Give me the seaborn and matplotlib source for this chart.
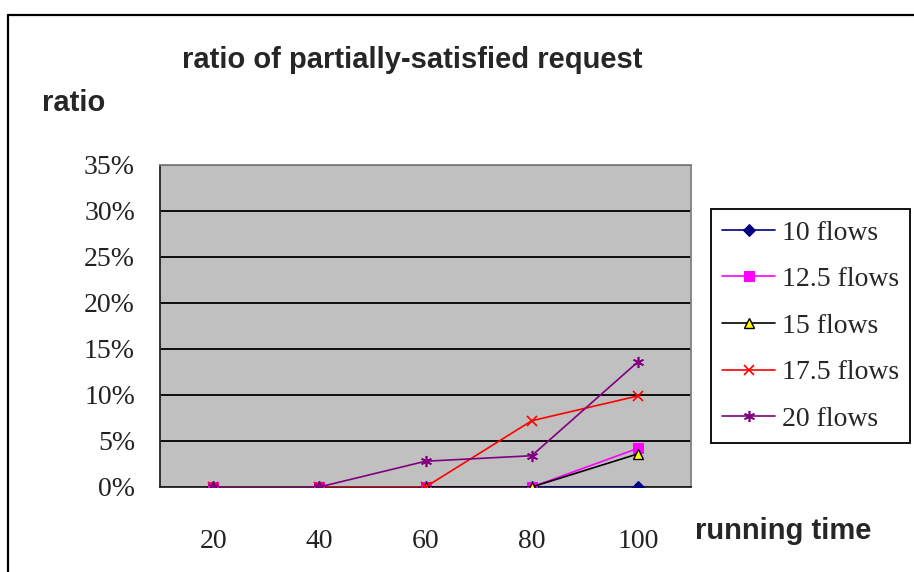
import matplotlib
matplotlib.use("Agg")
import matplotlib.pyplot as plt
from matplotlib.lines import Line2D
import seaborn as sns

# Running time categories and the ratio of partially-satisfied requests per flow load
running_time = ["20", "40", "60", "80", "100"]
flows_10 = [0.0, 0.0, 0.0, 0.0, 0.0]
flows_12_5 = [0.0, 0.0, 0.0, 0.0, 0.042]
flows_15 = [0.0, 0.0, 0.0, 0.0, 0.036]
flows_17_5 = [0.0, 0.0, 0.0, 0.072, 0.099]
flows_20 = [0.0, 0.0, 0.028, 0.034, 0.136]
series_names = ["10 flows", "12.5 flows", "15 flows", "17.5 flows", "20 flows"]
y_ticks = [0.0, 0.05, 0.10, 0.15, 0.20, 0.25, 0.30, 0.35]

sns.set_theme(style="white")
plt.rcParams["font.family"] = ["Liberation Serif", "DejaVu Serif"]

fig = plt.figure(figsize=(9.14, 5.72), dpi=100)
fig.patch.set_facecolor("white")
ax = fig.add_axes([160 / 914, 1 - 487 / 572, 531 / 914, 322 / 572])
ax.set_facecolor("#C0C0C0")

pos = list(range(len(running_time)))
styles = [
    dict(color="#000080", marker="D", markersize=6.5, markerfacecolor="#000080", markeredgecolor="#000080"),
    dict(color="#FF00FF", marker="s", markersize=7, markerfacecolor="#FF00FF", markeredgecolor="#FF00FF"),
    dict(color="#000000", marker="^", markersize=7.5, markerfacecolor="#FFFF00", markeredgecolor="#000000", markeredgewidth=1.0),
    dict(color="#FF0000", marker="x", markersize=7.5, markeredgecolor="#FF0000", markeredgewidth=1.2),
    dict(color="#800080", marker=(6, 2, 0), markersize=8, markeredgecolor="#800080", markeredgewidth=1.2),
]
all_series = [flows_10, flows_12_5, flows_15, flows_17_5, flows_20]
for name, vals, st in zip(series_names, all_series, styles):
    sns.lineplot(x=pos, y=vals, ax=ax, label=name, linewidth=1.2, zorder=3, **st)

ax.set_xlim(-0.5, len(running_time) - 0.5)
ax.set_ylim(0, 0.35)
ax.set_yticks(y_ticks)
ax.set_yticklabels([f"{int(round(v * 100))}%" for v in y_ticks], fontsize=20)
ax.yaxis.grid(True, color="black", linewidth=1.3)
ax.set_axisbelow(True)
ax.tick_params(axis="y", length=0, pad=18, colors="#222222")

# category labels sit at the centres, tick marks sit on the boundaries
ax.set_xticks([p - 0.5 for p in pos] + [len(pos) - 0.5])
ax.set_xticklabels([])
ax.set_xticks(pos, minor=True)
ax.set_xticklabels(running_time, minor=True, fontsize=20)
ax.tick_params(axis="x", which="major", direction="in", length=6, width=1.3, color="black")
ax.tick_params(axis="x", which="minor", length=0, pad=30, labelcolor="#222222")

for side in ["left", "bottom"]:
    ax.spines[side].set_color("#222222")
    ax.spines[side].set_linewidth(1.3)
for side in ["top", "right"]:
    ax.spines[side].set_color("#808080")
    ax.spines[side].set_linewidth(1.3)
ax.set_xlabel("")
ax.set_ylabel("")

leg = ax.legend(loc="upper left", bbox_to_anchor=(711 / 914, 1 - 209 / 572),
                bbox_transform=fig.transFigure, fontsize=20, frameon=True,
                fancybox=False, edgecolor="black", facecolor="white", framealpha=1,
                handlelength=1.9, handletextpad=0.25, labelspacing=0.76,
                borderpad=0.4, borderaxespad=0)
leg.get_frame().set_linewidth(1.3)

sans = ["Liberation Sans", "DejaVu Sans"]
fig.text(412 / 914, 1 - 60 / 572, "ratio of partially-satisfied request",
         ha="center", va="center", fontsize=21, fontweight="bold", family=sans)
fig.text(42 / 914, 1 - 103 / 572, "ratio", ha="left", va="center",
         fontsize=21, fontweight="bold", family=sans)
fig.text(695 / 914, 1 - 531 / 572, "running time", ha="left", va="center",
         fontsize=21, fontweight="bold", family=sans)

# outer frame (top and left edges)
fig.add_artist(Line2D([8 / 914, 1.0], [1 - 15 / 572, 1 - 15 / 572], color="black", linewidth=1.6, transform=fig.transFigure))
fig.add_artist(Line2D([8 / 914, 8 / 914], [0.0, 1 - 15 / 572], color="black", linewidth=1.6, transform=fig.transFigure))

fig.savefig("out.png", dpi=100)
